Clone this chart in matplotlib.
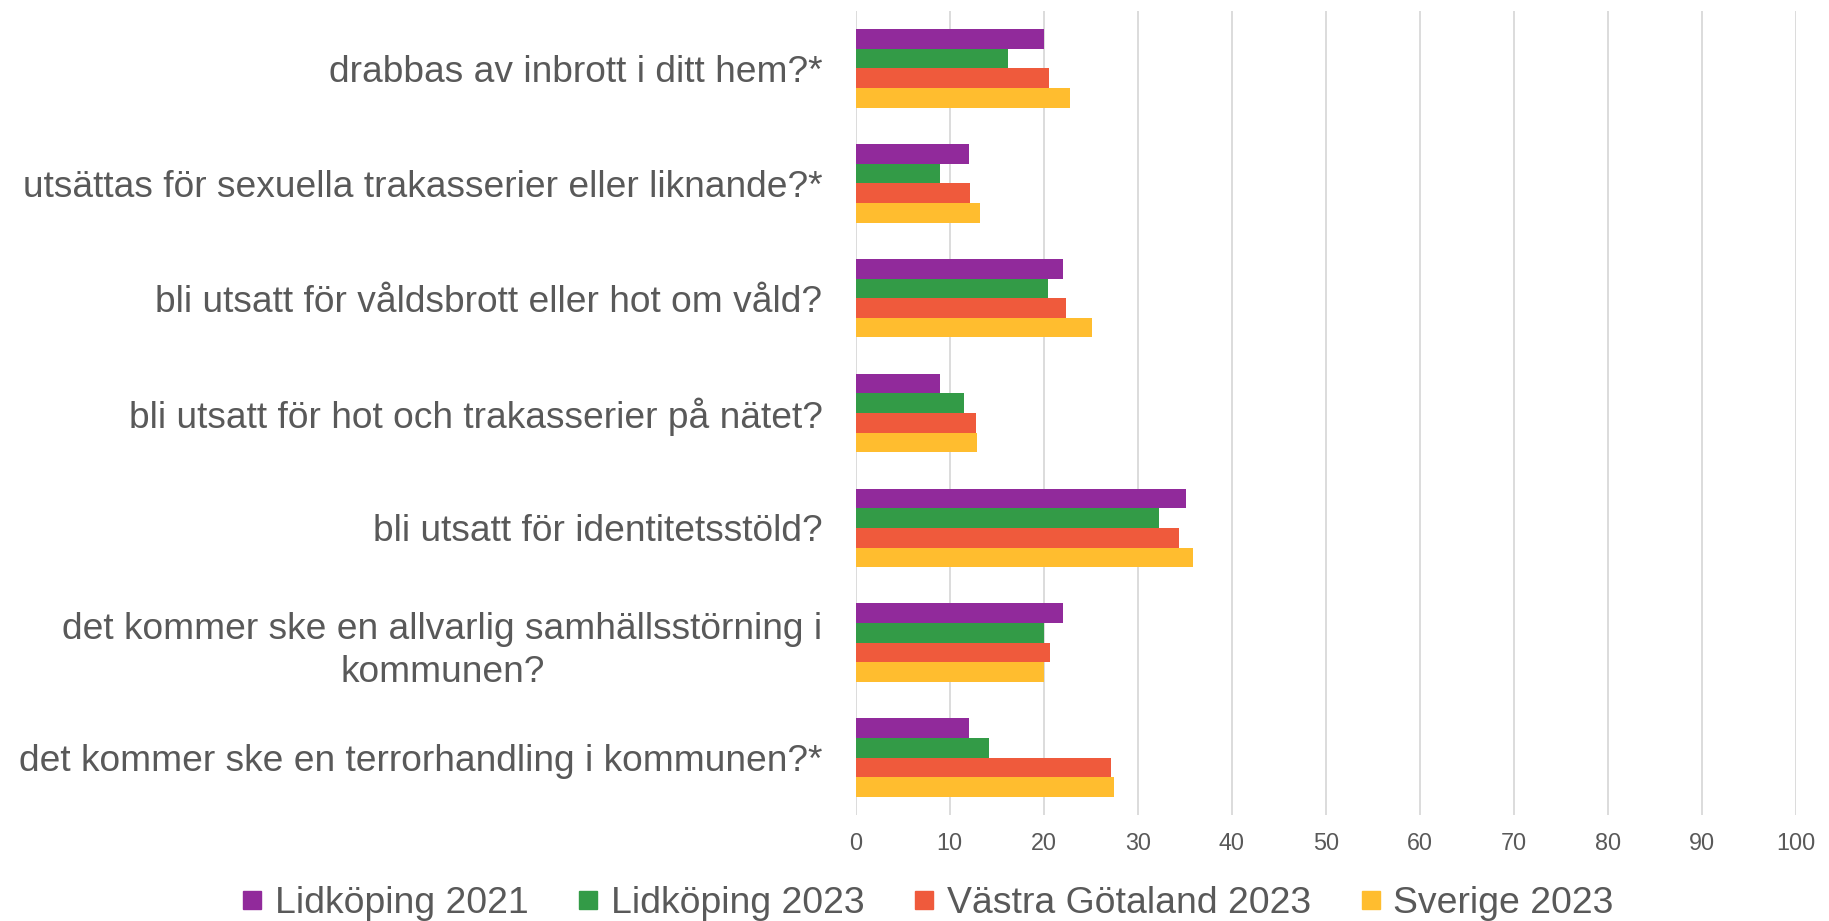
import matplotlib.pyplot as plt
import numpy as np
from matplotlib.lines import Line2D

# Daten
kategorier = [
    'drabbas av inbrott i ditt hem?*',
    'utsättas för sexuella trakasserier eller liknande?*',
    'bli utsatt för våldsbrott eller hot om våld?',
    'bli utsatt för hot och trakasserier på nätet?',
    'bli utsatt för identitetsstöld?',
    'det kommer ske en allvarlig samhällsstörning i\nkommunen?',
    'det kommer ske en terrorhandling i kommunen?*',
]
lidkoping_2021 = [20.0, 12.0, 22.0, 9.0, 35.1, 22.0, 12.0]
lidkoping_2023 = [16.2, 9.0, 20.4, 11.5, 32.3, 20.0, 14.2]
vastra_gotaland_2023 = [20.6, 12.2, 22.4, 12.8, 34.4, 20.7, 27.2]
sverige_2023 = [22.8, 13.2, 25.1, 12.9, 35.9, 20.0, 27.5]

serier = ['Lidköping 2021', 'Lidköping 2023', 'Västra Götaland 2023', 'Sverige 2023']
farger = ['#912A9B', '#339B47', '#EF5A3C', '#FFBD2F']
varden = [lidkoping_2021, lidkoping_2023, vastra_gotaland_2023, sverige_2023]

textfarg = '#595959'
plt.rcParams['font.family'] = ['Liberation Sans', 'DejaVu Sans']

fig = plt.figure(figsize=(18.29, 9.21), dpi=100)
ax = fig.add_axes([0.4679, 0.1151, 0.5139, 0.8729])

y = np.arange(len(kategorier))
h = 0.171
for i, (namn, v) in enumerate(zip(serier, varden)):
    ax.barh(y + (i - 1.5) * h, v, height=h, color=farger[i], label=namn, zorder=3)

ax.set_xlim(0, 100)
ax.set_ylim(len(kategorier) - 0.5, -0.5)
ax.set_xticks(np.arange(0, 101, 10))
ax.set_yticks(y)
ax.set_yticklabels(kategorier, fontsize=26.7, color=textfarg, linespacing=1.3)
# mehrzeilige Etiketten zentriert
for lab in ax.get_yticklabels():
    lab.set_multialignment('center')
ax.tick_params(axis='y', length=0, pad=24)
ax.tick_params(axis='x', length=0, pad=12, labelsize=16.8, labelcolor=textfarg)

ax.grid(axis='x', color='#D9D9D9', linewidth=1.3, zorder=0)
for s in ax.spines.values():
    s.set_visible(False)

handles = [Line2D([], [], marker='s', linestyle='none', markersize=13.5,
                  markerfacecolor=c, markeredgecolor=c) for c in farger]
fig.legend(handles, serier, loc='center', bbox_to_anchor=(0.507, 0.019), ncol=4,
           frameon=False, fontsize=26.9, labelcolor=textfarg,
           handlelength=0.6, handletextpad=0.3, columnspacing=1.3,
           borderaxespad=0)

fig.savefig('out.png', dpi=100)
